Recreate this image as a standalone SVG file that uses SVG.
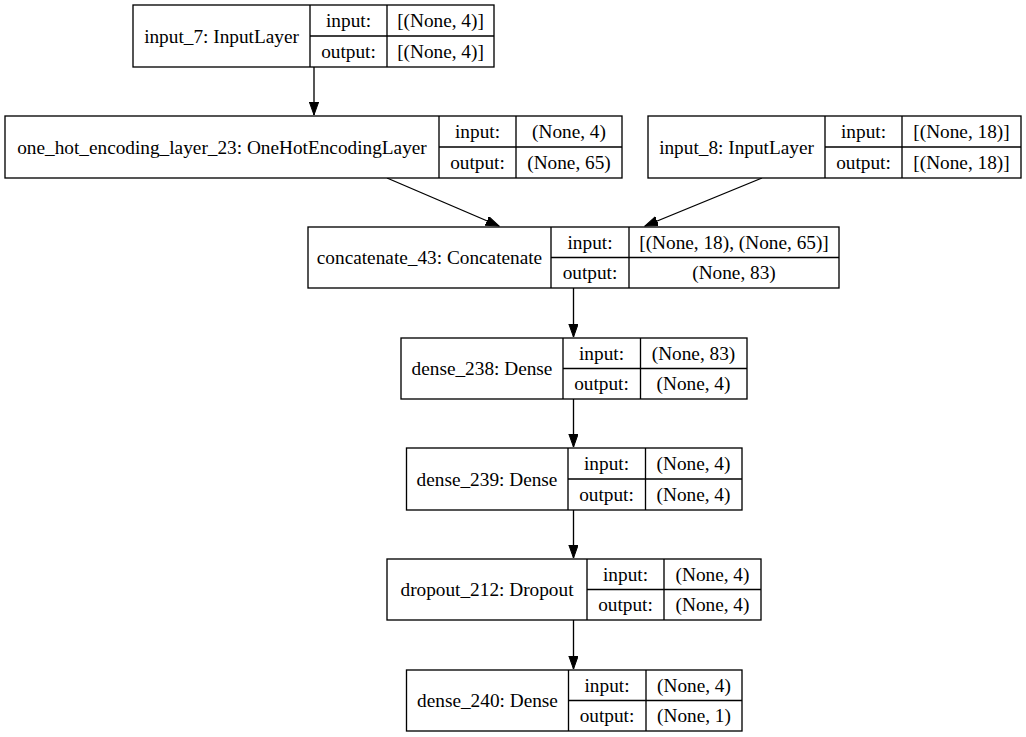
<svg xmlns="http://www.w3.org/2000/svg" width="1026" height="737" viewBox="0 0 1026 737">
  <style>
    .box { fill: #ffffff; stroke: #000000; stroke-width: 1.33; }
    .div { stroke: #000000; stroke-width: 1.33; fill: none; }
    .edge { stroke: #000000; stroke-width: 1.33; fill: none; marker-end: url(#arrow); }
    text { font-family: 'Liberation Serif', 'DejaVu Serif', 'Times New Roman', Times, serif; font-size: 19.3px; fill: #000000; text-anchor: middle; }
  </style>
  <defs>
    <marker id="arrow" markerUnits="userSpaceOnUse" markerWidth="14" markerHeight="10" refX="13" refY="4.65" orient="auto">
      <path d="M0,0 L13,4.65 L0,9.3 Z" fill="#000000" stroke="#000000" stroke-width="1"/>
    </marker>
  </defs>
  <rect width="1026" height="737" fill="#ffffff"/>

  <!-- connectors -->
  <g id="edges">
    <line class="edge" x1="314" y1="67" x2="314" y2="115"/>
    <line class="edge" x1="387" y1="178" x2="499" y2="226"/>
    <line class="edge" x1="762" y1="178" x2="645" y2="226"/>
    <line class="edge" x1="573.5" y1="288" x2="573.5" y2="337"/>
    <line class="edge" x1="573.5" y1="399" x2="573.5" y2="447"/>
    <line class="edge" x1="573.5" y1="510" x2="573.5" y2="558"/>
    <line class="edge" x1="573.5" y1="620" x2="573.5" y2="669"/>
  </g>

  <!-- input_7 -->
  <g id="input_7">
    <rect class="box" x="133" y="5" width="361" height="62"/>
    <path class="div" d="M310,5 V67 M387,5 V67 M310,36 H494"/>
    <text x="221.5" y="42.5">input_7: InputLayer</text>
    <text x="348.5" y="27">input:</text>
    <text x="348.5" y="58">output:</text>
    <text x="440.5" y="27">[(None, 4)]</text>
    <text x="440.5" y="58">[(None, 4)]</text>
  </g>

  <!-- one_hot_encoding_layer_23 -->
  <g id="one_hot_encoding_layer_23">
    <rect class="box" x="5" y="116" width="617" height="62"/>
    <path class="div" d="M439,116 V178 M516,116 V178 M439,147 H622"/>
    <text x="222" y="153.5">one_hot_encoding_layer_23: OneHotEncodingLayer</text>
    <text x="477.5" y="138">input:</text>
    <text x="477.5" y="169">output:</text>
    <text x="569" y="138">(None, 4)</text>
    <text x="569" y="169">(None, 65)</text>
  </g>

  <!-- input_8 -->
  <g id="input_8">
    <rect class="box" x="648" y="116" width="373" height="62"/>
    <path class="div" d="M825,116 V178 M902,116 V178 M825,147 H1021"/>
    <text x="736.5" y="153.5">input_8: InputLayer</text>
    <text x="863.5" y="138">input:</text>
    <text x="863.5" y="169">output:</text>
    <text x="961.5" y="138">[(None, 18)]</text>
    <text x="961.5" y="169">[(None, 18)]</text>
  </g>

  <!-- concatenate_43 -->
  <g id="concatenate_43">
    <rect class="box" x="308" y="227" width="531" height="61"/>
    <path class="div" d="M551,227 V288 M629,227 V288 M551,257.5 H839"/>
    <text x="429.5" y="264">concatenate_43: Concatenate</text>
    <text x="590" y="248.5">input:</text>
    <text x="590" y="279">output:</text>
    <text x="734" y="248.5">[(None, 18), (None, 65)]</text>
    <text x="734" y="279">(None, 83)</text>
  </g>

  <!-- dense_238 -->
  <g id="dense_238">
    <rect class="box" x="401" y="338" width="346" height="61"/>
    <path class="div" d="M563,338 V399 M640.5,338 V399 M563,368.5 H747"/>
    <text x="482" y="375">dense_238: Dense</text>
    <text x="601.5" y="359.5">input:</text>
    <text x="601.5" y="390">output:</text>
    <text x="693.5" y="359.5">(None, 83)</text>
    <text x="693.5" y="390">(None, 4)</text>
  </g>

  <!-- dense_239 -->
  <g id="dense_239">
    <rect class="box" x="406.5" y="448" width="335.5" height="62"/>
    <path class="div" d="M568,448 V510 M645.5,448 V510 M568,479 H742"/>
    <text x="487" y="485.5">dense_239: Dense</text>
    <text x="606.5" y="470">input:</text>
    <text x="606.5" y="501">output:</text>
    <text x="693.5" y="470">(None, 4)</text>
    <text x="693.5" y="501">(None, 4)</text>
  </g>

  <!-- dropout_212 -->
  <g id="dropout_212">
    <rect class="box" x="387" y="559" width="374" height="61"/>
    <path class="div" d="M587,559 V620 M664,559 V620 M587,589.5 H761"/>
    <text x="487" y="596">dropout_212: Dropout</text>
    <text x="625.5" y="580.5">input:</text>
    <text x="625.5" y="611">output:</text>
    <text x="712.5" y="580.5">(None, 4)</text>
    <text x="712.5" y="611">(None, 4)</text>
  </g>

  <!-- dense_240 -->
  <g id="dense_240">
    <rect class="box" x="406.5" y="670" width="335.5" height="61"/>
    <path class="div" d="M568.5,670 V731 M646,670 V731 M568.5,700.5 H742"/>
    <text x="487.5" y="707">dense_240: Dense</text>
    <text x="607" y="691.5">input:</text>
    <text x="607" y="722">output:</text>
    <text x="694" y="691.5">(None, 4)</text>
    <text x="694" y="722">(None, 1)</text>
  </g>
</svg>
